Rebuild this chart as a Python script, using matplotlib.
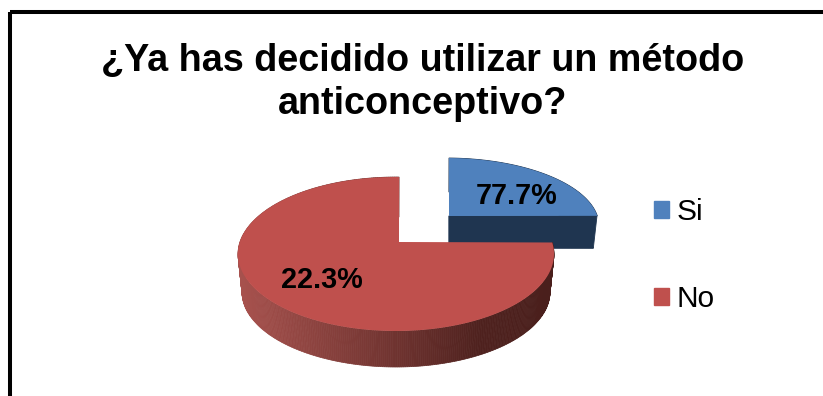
import numpy as np
import matplotlib
matplotlib.use("Agg")
import matplotlib.pyplot as plt
from matplotlib.patches import Patch, Rectangle
from matplotlib.colors import to_rgb

plt.rcParams["font.family"] = ["Liberation Sans", "DejaVu Sans"]

title = "¿Ya has decidido utilizar un método\nanticonceptivo?"
categories = ["Si", "No"]
shares = [22.3, 77.7]
slice_labels = ["77.7%", "22.3%"]
top_colors = ["#4f81bd", "#bf504d"]

W, H = 823, 396
fig = plt.figure(figsize=(W / 100, H / 100), dpi=100)
ax = fig.add_axes([0, 0, 1, 1])
ax.set_xlim(0, W)
ax.set_ylim(H, 0)
ax.axis("off")

# Chart border, running off the right and bottom of the canvas
ax.add_patch(Rectangle((10.5, 11.5), 900, 500, fill=False, ec="black", lw=2.9,
                       joinstyle="round", zorder=1))


def rim(cx, cy, rx, ry, a0, a1, n=240):
    t = np.radians(np.linspace(a0, a1, n))
    return cx + rx * np.cos(t), cy - ry * np.sin(t)


def mix(c0, c1, f):
    a, b = np.array(to_rgb(c0)), np.array(to_rgb(c1))
    return tuple(a + (b - a) * f)


def red_side(x):
    # Side shading of the large slice: lighter on the left, dark towards the right
    xs = [238, 400, 480, 553]
    f = np.interp(x, xs, [0, 0.62, 0.95, 1.0])
    return mix("#a8524e", "#4a1f1c", f)


start = 8.6
blue_span = shares[0] / sum(shares) * 360
red_span = shares[1] / sum(shares) * 360

# Small slice, pulled away from the centre
bx, by = rim(446, 226, 153, 68, start, start + blue_span)
bx2, by2 = rim(446, 258, 149, 66, start, start + blue_span)
side_x = np.r_[449, bx, bx2[::-1], 449]
side_y = np.r_[216, by, by2[::-1], 248]
ax.fill(side_x, side_y, color="#1f3550", lw=0.6, zorder=2)
ax.fill(np.r_[449, 597, bx2[0], 449], np.r_[216, by[0], by2[0], 248],
        color="#1f3550", lw=0.6, zorder=2)
ax.fill(np.r_[449, bx], np.r_[216, by], color=top_colors[0], lw=0, zorder=3)

# Large slice: rim wall first, top face over it
a0, a1 = start + blue_span, start + blue_span + red_span
rx, ry = rim(396, 254, 158, 77, a0, a1, 360)
rx2, ry2 = rim(396, 292, 154, 75, a0, a1, 360)
for i in range(len(rx) - 1):
    xm = (rx[i] + rx[i + 1]) / 2
    ax.fill([rx[i], rx[i + 1], rx2[i + 1], rx2[i]],
            [ry[i], ry[i + 1], ry2[i + 1], ry2[i]],
            color=red_side(xm), lw=0.5, zorder=4)
ax.fill(np.r_[399, rx], np.r_[242, ry], color=top_colors[1], lw=0, zorder=5)

# Slice labels
for (x, y), text in zip([(517, 196), (322, 280)], slice_labels):
    ax.text(x, y, text, ha="center", va="center", fontsize=20.8,
            fontweight="bold", color="black", zorder=6)

ax.text(423, 82.5, title, ha="center", va="center", fontsize=27.2,
        fontweight="bold", color="black", linespacing=1.27, zorder=6)

handles = [Patch(color=c) for c in top_colors]
ax.legend(handles, categories, loc="upper left", bbox_to_anchor=(654 / W, 1 - 198 / H),
          bbox_transform=ax.transAxes, frameon=False, fontsize=21.5, handlelength=0.5,
          handleheight=0.5, handletextpad=0.27, labelspacing=1.98, borderpad=0,
          borderaxespad=0)

fig.savefig("out.png", dpi=100)
